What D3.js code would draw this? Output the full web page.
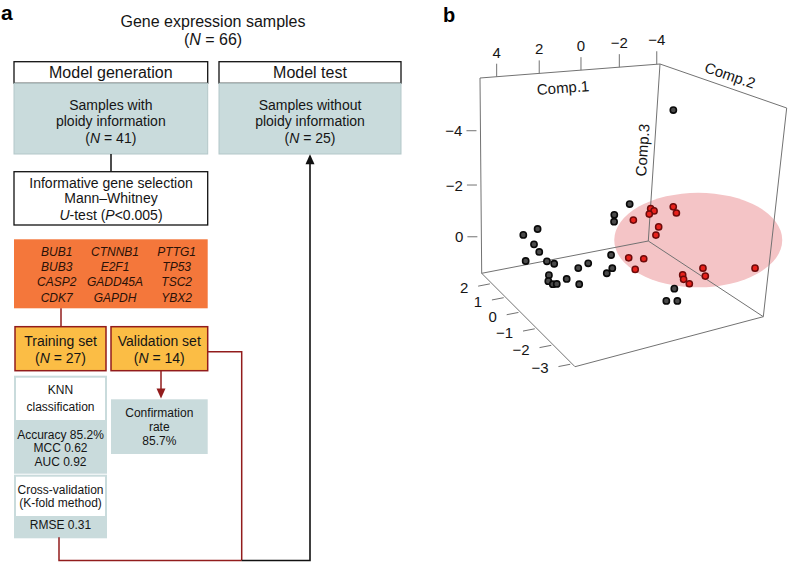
<!DOCTYPE html>
<html><head><meta charset="utf-8">
<script src="https://cdn.jsdelivr.net/npm/d3@7"></script>
<style>body{margin:0;background:#fff}svg{font-family:"Liberation Sans",Arial,Helvetica,sans-serif}</style>
</head><body>
<svg id="c" width="788" height="563"></svg>
<script>
// ---------------- DATA ----------------
const totalSamples = 66, withPloidy = 41, withoutPloidy = 25, trainingN = 27, validationN = 14;
const geneNames = [["BUB1","CTNNB1","PTTG1"],["BUB3","E2F1","TP53"],["CASP2","GADD45A","TSC2"],["CDK7","GAPDH","YBX2"]];
const knnMetrics = ["Accuracy 85.2%","MCC 0.62","AUC 0.92"];
const rmseText = "RMSE 0.31";
const confirmationRate = "85.7%";

const comp1Ticks = [4,2,0,-2,-4];
const comp2Ticks = [2,1,0,-1,-2,-3];
const comp3Ticks = [-4,-2,0];
const blackComp1 = [-3.09,-0.80,0.16,0.24,3.58,4.03,3.89,3.86,4.05,3.56,3.38,3.70,3.97,3.92,3.65,3.02,2.14,1.41,2.76,0.39,0.76,1.20,-1.47,-0.57,-1.25];
const blackComp2 = [0.8,0.5,0.3,0.2,0.6,0.9,0.4,0.1,0.7,0.0,-0.2,-0.3,-0.6,-0.8,-0.7,-0.5,-0.1,0.2,-0.9,0.1,-0.4,-0.6,-1.4,-1.9,-1.8];
const blackComp3 = [-4.75,-1.54,-1.34,-1.13,-1.15,-0.85,-0.72,-0.58,0.02,-0.24,-0.23,0.08,0.09,0.10,0.19,0.22,0.18,0.27,0.24,0.07,0.25,0.26,0.86,0.90,1.07];
const redComp1 = [-1.22,-1.19,-1.38,-1.74,-1.71,-0.85,-1.38,-1.48,-0.22,-0.60,-0.08,-1.96,-1.81,-2.02,-2.34,-2.39,-3.92];
const redComp2 = [-0.2,-0.4,0.0,-0.8,-1.0,0.3,-0.5,-0.3,-0.2,-0.6,-0.7,-1.3,-1.5,-1.6,-1.9,-2.0,-2.8];
const redComp3 = [-1.61,-1.62,-1.29,-1.88,-1.74,-1.00,-1.03,-0.61,0.12,0.01,0.28,0.48,0.52,0.67,0.00,0.25,-0.21];
const clusterCenter = [-2.98,-1.0,-0.53];

// ---------------- SETUP ----------------
const svg = d3.select('#c');
const INK = '#151515', GRAYFILL = '#c9dbdc', GRAYLINE = '#b3c7c9', ORANGE = '#f4773b', YELLOW = '#fbbd45', DARKRED = '#921c1c';

function text(g, x, y, parts, size, opts = {}) {
  const t = g.append('text').attr('x', x).attr('y', y).attr('font-size', size)
    .attr('text-anchor', opts.anchor || 'middle').attr('fill', opts.fill || INK);
  if (opts.bold) t.attr('font-weight', 'bold');
  if (opts.italic) t.attr('font-style', 'italic');
  if (typeof parts === 'string') parts = [[parts]];
  parts.forEach(([s, it]) => { const sp = t.append('tspan').text(s); if (it) sp.attr('font-style', 'italic'); });
  return t;
}
function rect(g, x, y, w, h, fill, stroke, sw) {
  return g.append('rect').attr('x', x).attr('y', y).attr('width', w).attr('height', h)
    .attr('fill', fill).attr('stroke', stroke || 'none').attr('stroke-width', sw || 1);
}
function path(g, pts, stroke, sw) {
  return g.append('path').attr('d', d3.line()(pts)).attr('fill', 'none').attr('stroke', stroke).attr('stroke-width', sw);
}
function arrowHead(g, tip, dir, color) { // dir: +1 pointing down, -1 pointing up
  const b = tip[1] - dir * 10;
  g.append('path').attr('d', `M${tip[0]},${tip[1]}L${tip[0]-4.5},${b}L${tip[0]+4.5},${b}Z`).attr('fill', color);
}

// ---------------- PANEL A ----------------
const a = svg.append('g');
text(a, 1, 20, 'a', 21, { anchor: 'start', bold: true, fill: '#000' });
text(a, 213, 27, 'Gene expression samples', 16);
text(a, 213, 45, [['('], ['N', true], [` = ${totalSamples})`]], 16);

const L = { x: 14, w: 193.7 }, R = { x: 219, w: 182 };
rect(a, L.x, 61.7, L.w, 21.6, '#fff', '#111', 1.3);
rect(a, R.x, 61.7, R.w, 21.6, '#fff', '#111', 1.3);
text(a, L.x + L.w / 2, 78, 'Model generation', 16);
text(a, R.x + R.w / 2, 78, 'Model test', 16);

rect(a, L.x, 83.3, L.w, 70.7, GRAYFILL, GRAYLINE, 1);
rect(a, R.x, 83.3, R.w, 70.7, GRAYFILL, GRAYLINE, 1);
[['Samples with'], ['ploidy information']].forEach((s, i) => text(a, L.x + L.w / 2, 110 + i * 15.5, s[0], 14));
text(a, L.x + L.w / 2, 143, [['('], ['N', true], [` = ${withPloidy})`]], 14);
[['Samples without'], ['ploidy information']].forEach((s, i) => text(a, R.x + R.w / 2, 110 + i * 15.5, s[0], 14));
text(a, R.x + R.w / 2, 143, [['('], ['N', true], [` = ${withoutPloidy})`]], 14);

path(a, [[111, 154], [111, 171.7]], '#111', 1.5);
rect(a, L.x, 171.7, L.w, 53.3, '#fff', '#111', 1.3);
text(a, 111, 187.7, 'Informative gene selection', 14);
text(a, 111, 203.3, 'Mann–Whitney', 14);
text(a, 111, 220, [['U', true], ['-test ('], ['P', true], ['<0.005)']], 14);

rect(a, L.x, 239.3, L.w, 69, ORANGE);
const geneCols = [56.7, 115, 176.7];
geneNames.forEach((row, r) => row.forEach((g, c) =>
  text(a, geneCols[c], 255.5 + r * 15.4, g, 12, { italic: true, fill: '#2a1208' })));

path(a, [[61, 308.3], [61, 326.7]], DARKRED, 1.5);
rect(a, 15, 326.7, 91, 44, YELLOW, DARKRED, 1.5);
rect(a, 111, 326.7, 96.7, 44, YELLOW, DARKRED, 1.5);
text(a, 60.5, 345.7, 'Training set', 14);
text(a, 60.5, 363.3, [['('], ['N', true], [` = ${trainingN})`]], 14);
text(a, 159.3, 345.7, 'Validation set', 14);
text(a, 159.3, 363.3, [['('], ['N', true], [` = ${validationN})`]], 14);

// validation -> confirmation
path(a, [[161, 370.7], [161, 390]], DARKRED, 1.5);
arrowHead(a, [161, 398.6], 1, DARKRED);
rect(a, 111, 399.3, 96.7, 54.7, GRAYFILL);
text(a, 159.3, 417.3, 'Confirmation', 12);
text(a, 159.3, 430.7, 'rate', 12);
text(a, 159.3, 444.7, confirmationRate, 12);

// KNN box
rect(a, 15, 376.7, 91, 96, '#fff', GRAYFILL, 2);
rect(a, 15, 420, 91, 52.7, GRAYFILL);
text(a, 60.5, 394, 'KNN', 12);
text(a, 60.5, 410.7, 'classification', 12);
knnMetrics.forEach((m, i) => text(a, 60.5, 439 + i * 13.4, m, 12));
// Cross-validation box
rect(a, 15, 475.7, 91, 61.6, '#fff', GRAYFILL, 2);
rect(a, 15, 516, 91, 21.3, GRAYFILL);
text(a, 60.5, 494, 'Cross-validation', 12);
text(a, 60.5, 507.3, '(K-fold method)', 12);
text(a, 60.5, 529, rmseText, 12);

// connecting lines to model test
path(a, [[207.7, 351.7], [241.7, 351.7], [241.7, 560.5]], DARKRED, 1.5);
path(a, [[59, 537.3], [59, 560.5], [241.7, 560.5]], DARKRED, 1.5);
path(a, [[241.7, 560.5], [310, 560.5], [310, 162]], '#111', 1.6);
arrowHead(a, [310, 154.3], -1, '#111');

// ---------------- PANEL B ----------------
const b = svg.append('g');
text(b, 443, 21.5, 'b', 20, { anchor: 'start', bold: true, fill: '#000' });

// box corner anchors (screen layout of the 3-D box)
const C = { BL: [481.7, 273.3], BB: [648.3, 241], BR: [763.3, 316.7], BF: [575, 366.7],
            TL: [480, 78], TB: [660, 64], TR: [786.7, 108], TF: [585, 140] };
const lerp = (p, q, t) => [p[0] + (q[0] - p[0]) * t, p[1] + (q[1] - p[1]) * t];
function proj(u, v, w) {
  const b0 = lerp(C.BL, C.BF, v), b1 = lerp(C.BB, C.BR, v), t0 = lerp(C.TL, C.TF, v), t1 = lerp(C.TB, C.TR, v);
  return lerp(lerp(b0, b1, u), lerp(t0, t1, u), w);
}
// perspective-like axis scales (value -> fraction along box edge)
const s1 = d3.scaleLinear().domain([4.78, 4, 2, 0, -2, -4, -4.17]).range([0, 0.0926, 0.329, 0.561, 0.774, 0.982, 1]);
const s2 = d3.scaleLinear().domain([2.74, 2, 1, 0, -1, -2, -3, -3.15]).range([0, 0.109, 0.257, 0.415, 0.590, 0.767, 0.970, 1]);
const s3 = d3.scaleLinear().domain([1.41, 0, -2, -4, -5.94]).range([0, 0.187, 0.452, 0.730, 1]);
const P = (c1, c2, c3) => proj(s1(c1), s2(c2), s3(c3));
const fmt = d => d < 0 ? '\u2212' + Math.abs(d) : String(d);
const AX = '#727272';

// cluster ellipse
const ec = P(...clusterCenter);
b.append('ellipse').attr('cx', ec[0]).attr('cy', ec[1]).attr('rx', 84).attr('ry', 47.3).attr('fill', '#f4c4c6');

// box edges
const d1 = s1.domain(), d2 = s2.domain(), d3v = s3.domain();
const c1min = d1[0], c1max = d1[d1.length - 1], c2min = d2[0], c2max = d2[d2.length - 1], c3lo = d3v[0], c3hi = d3v[d3v.length - 1];
const K = {
  TL: P(c1min, c2min, c3hi), TB: P(c1max, c2min, c3hi), TR: P(c1max, c2max, c3hi),
  BL: P(c1min, c2min, c3lo), BB: P(c1max, c2min, c3lo), BR: P(c1max, c2max, c3lo), BF: P(c1min, c2max, c3lo)
};
[['TL','TB'],['TB','TR'],['TL','BL'],['TB','BB'],['TR','BR'],['BL','BB'],['BB','BR'],['BL','BF'],['BF','BR']]
  .forEach(([p, q]) => path(b, [K[p], K[q]], AX, 1));

// Comp.1 ticks (top back edge)
comp1Ticks.forEach(t => {
  const p = P(t, c2min, c3hi);
  path(b, [[p[0], p[1]], [p[0], p[1] - 13]], AX, 1);
  text(b, p[0], p[1] - 19, fmt(t), 15);
});
// Comp.3 ticks (left vertical edge)
comp3Ticks.forEach(t => {
  const p = P(c1min, c2min, t);
  path(b, [[p[0] - 4, p[1]], [p[0] - 14, p[1]]], AX, 1);
  text(b, p[0] - 18, p[1] + 5.5, fmt(t), 15, { anchor: 'end' });
});
// Comp.2 ticks (front-left floor edge)
const dv = [K.BL[0] - K.BB[0], K.BL[1] - K.BB[1]], dn = Math.hypot(...dv), du = [dv[0] / dn, dv[1] / dn];
comp2Ticks.forEach(t => {
  const p = P(c1min, t, c3lo);
  path(b, [[p[0] + 2 * du[0], p[1] + 2 * du[1]], [p[0] + 14 * du[0], p[1] + 14 * du[1]]], AX, 1);
  text(b, p[0] + 24 * du[0], p[1] + 24 * du[1] + 5, fmt(t), 15, { anchor: 'end' });
});

// axis titles
const ang = (p, q) => Math.atan2(q[1] - p[1], q[0] - p[0]) * 180 / Math.PI;
{
  const m = lerp(K.TL, K.TB, 0.461);
  text(b, 0, 0, 'Comp.1', 15).attr('dominant-baseline', 'central')
    .attr('transform', `translate(${m[0]},${m[1] + 15.5}) rotate(${ang(K.TL, K.TB)})`);
  const m2 = lerp(K.TB, K.TR, 0.52);
  text(b, 0, 0, 'Comp.2', 15).attr('dominant-baseline', 'central')
    .attr('transform', `translate(${m2[0] + 4.3},${m2[1] - 12.3}) rotate(${ang(K.TB, K.TR)})`);
  const m3 = lerp(K.TB, K.BB, 0.486);
  text(b, 0, 0, 'Comp.3', 15).attr('dominant-baseline', 'central')
    .attr('transform', `translate(${m3[0] - 12.5},${m3[1]}) rotate(${ang(K.BB, K.TB)})`);
}

// points
const black = blackComp1.map((c, i) => P(c, blackComp2[i], blackComp3[i]));
const red = redComp1.map((c, i) => P(c, redComp2[i], redComp3[i]));
b.selectAll('circle.k').data(black).join('circle').attr('class', 'k')
  .attr('cx', d => d[0]).attr('cy', d => d[1]).attr('r', 3.1)
  .attr('fill', '#4a4a4a').attr('stroke', '#0a0a0a').attr('stroke-width', 1.6);
b.selectAll('circle.r').data(red).join('circle').attr('class', 'r')
  .attr('cx', d => d[0]).attr('cy', d => d[1]).attr('r', 3.1)
  .attr('fill', '#e8221c').attr('stroke', '#6e0a0a').attr('stroke-width', 1.5);
</script>
</body></html>
